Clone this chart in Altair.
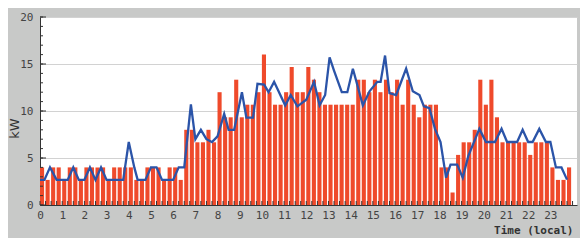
import altair as alt
import pandas as pd

# 15-minute energy bars (kW), slot 0 = 00:00
bar_kw = [
    4.0, 2.67, 4.0, 4.0, 2.67, 4.0, 4.0, 2.67,          # 0-2h
    4.0, 4.0, 4.0, 4.0, 2.67, 4.0, 4.0, 4.0,            # 2-4h
    4.0, 2.67, 2.67, 4.0, 4.0, 4.0, 2.67, 4.0,          # 4-6h
    4.0, 2.67, 8.0, 8.0, 6.67, 6.67, 8.0, 6.67,         # 6-8h
    12.0, 9.33, 9.33, 13.33, 9.33, 10.67, 10.67, 12.0,  # 8-10h
    16.0, 12.0, 10.67, 10.67, 12.0, 14.67, 12.0, 12.0,  # 10-12h
    14.67, 13.33, 12.0, 10.67, 10.67, 10.67, 10.67, 10.67,  # 12-14h
    10.67, 13.33, 13.33, 12.0, 13.33, 12.0, 13.33, 12.0,    # 14-16h
    13.33, 10.67, 13.33, 10.67, 9.33, 10.67, 10.67, 10.67,  # 16-18h
    4.0, 4.0, 1.33, 5.33, 6.67, 6.67, 8.0, 13.33,       # 18-20h
    10.67, 13.33, 9.33, 6.67, 6.67, 6.67, 6.67, 6.67,   # 20-22h
    5.33, 6.67, 6.67, 6.67, 4.0, 2.67, 2.67, 4.0,       # 22-24h
]
bar_hour = [q / 4 for q in range(len(bar_kw))]

# demand line
line_hour = [0, 0.2, 0.45, 0.75, 1.25, 1.5, 1.75, 2.0, 2.25, 2.5, 2.75, 3.0, 3.75, 4.0,
             4.25, 4.4, 4.75, 5.0, 5.25, 5.5, 6.0, 6.25, 6.5, 6.8, 7.0, 7.25, 7.5, 7.75,
             8.0, 8.3, 8.5, 8.75, 9.1, 9.3, 9.6, 9.8, 10.1, 10.3, 10.55, 11.05, 11.3, 11.6,
             12.0, 12.35, 12.6, 12.85, 13.05, 13.25, 13.6, 13.85, 14.1, 14.55, 14.85, 15.2,
             15.35, 15.55, 15.75, 16.05, 16.5, 16.8, 17.1, 17.3, 17.55, 17.8, 18.05, 18.3,
             18.5, 18.8, 19.05, 19.3, 19.8, 20.1, 20.5, 20.8, 21.05, 21.5, 21.75, 22.0,
             22.2, 22.5, 22.8, 23.0, 23.25, 23.5, 23.75]
line_kw = [2.67, 2.67, 4.0, 2.67, 2.67, 4.0, 2.67, 2.67, 4.0, 2.67, 4.0, 2.67, 2.67, 6.7,
           4.0, 2.67, 2.67, 4.0, 4.0, 2.67, 2.67, 4.0, 4.0, 10.7, 7.0, 8.0, 7.0, 6.7,
           7.3, 9.7, 8.0, 8.0, 12.0, 9.3, 9.3, 12.9, 12.8, 12.0, 13.1, 10.6, 11.7, 10.5,
           11.2, 13.1, 10.6, 11.7, 15.7, 14.3, 12.0, 12.0, 14.5, 10.6, 12.1, 13.1,
           13.1, 15.9, 11.9, 11.7, 14.5, 12.1, 11.7, 10.5, 10.3, 8.1, 6.7, 2.9,
           4.3, 4.3, 2.9, 5.2, 8.1, 6.7, 6.7, 8.1, 6.7, 6.7, 8.0, 6.7,
           6.7, 8.1, 6.7, 6.7, 4.0, 4.0, 2.7]

hour_labels = list(range(24))
kw_labels = [0, 5, 10, 15, 20]
x_minor = [q / 4 for q in range(97)]
y_minor = list(range(21))

bars_df = pd.DataFrame({"hour": bar_hour, "kw": bar_kw})
line_df = pd.DataFrame({"hour": line_hour, "kw": line_kw})
xt_df = pd.DataFrame({"hour": x_minor})
yt_df = pd.DataFrame({"kw": y_minor})

x_scale = alt.Scale(domain=[0, 24.2], nice=False, zero=False)
y_scale = alt.Scale(domain=[0, 20], nice=False)

x_axis = alt.Axis(values=hour_labels, format="d", title="Time (local)", grid=False,
                  ticks=False, labelPadding=4, labelFlush=False,
                  titleX=533, titleY=25, titleAlign="right", titleBaseline="middle",
                  titleFont="DejaVu Sans Mono", titleFontSize=11, titleFontWeight="bold",
                  titleColor="#333333")
y_axis = alt.Axis(values=kw_labels, title="kW", grid=True, gridColor="#d2d2d2",
                  ticks=False, labelPadding=7, labelFlush=False,
                  titleX=-26, titleY=111, titleAngle=270, titleAlign="center",
                  titleBaseline="middle", titleFont="DejaVu Sans", titleFontSize=13,
                  titleFontWeight="normal", titleColor="#333333")

bars = alt.Chart(bars_df).transform_calculate(
    hour_end="datum.hour + 0.185"
).mark_bar(color="#ef4a2b").encode(
    x=alt.X("hour:Q", scale=x_scale, axis=x_axis),
    x2="hour_end:Q",
    y=alt.Y("kw:Q", scale=y_scale, axis=y_axis),
    y2=alt.datum(0),
)

line = alt.Chart(line_df).mark_line(color="#2b54a8", strokeWidth=2.3).encode(
    x=alt.X("hour:Q", scale=x_scale, axis=x_axis),
    y=alt.Y("kw:Q", scale=y_scale, axis=y_axis),
)

xticks = alt.Chart(xt_df).mark_rule(color="#333333", strokeWidth=1).encode(
    x=alt.X("hour:Q", scale=x_scale, axis=x_axis),
    y=alt.value(188), y2=alt.value(184),
)

yticks_minor = alt.Chart(yt_df).mark_rule(color="#333333", strokeWidth=1).encode(
    y=alt.Y("kw:Q", scale=y_scale, axis=y_axis),
    x=alt.value(0), x2=alt.value(3),
)
yticks_major = alt.Chart(yt_df).transform_filter(
    "datum.kw % 5 == 0"
).mark_rule(color="#333333", strokeWidth=1).encode(
    y=alt.Y("kw:Q", scale=y_scale, axis=y_axis),
    x=alt.value(0), x2=alt.value(6),
)

chart = alt.layer(bars, line, xticks, yticks_minor, yticks_major).properties(
    width=537, height=188,
    autosize=alt.AutoSizeParams(type="none"),
    padding={"left": 32, "top": 9, "right": 3, "bottom": 33},
    background="#c8c9c8",
).configure_view(fill="white", stroke=None).configure_axis(
    domainColor="#333333", domainWidth=1,
    labelFont="DejaVu Sans Mono", labelFontSize=11, labelColor="#444444",
)

chart.save("out.html", embed_options={"renderer": "svg", "actions": False})
